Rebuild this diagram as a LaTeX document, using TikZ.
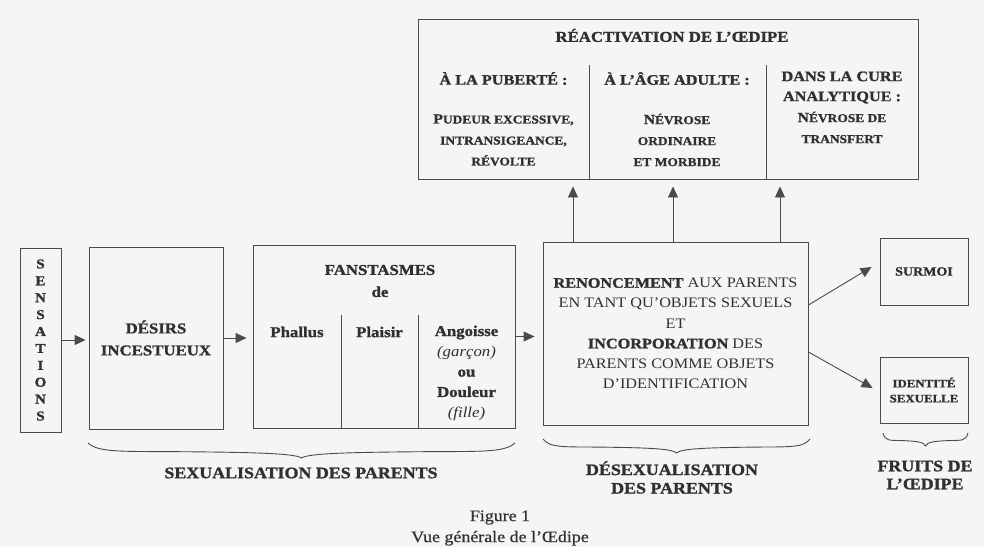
\documentclass[tikz,border=0pt]{standalone}
\usepackage{fontspec}
\setmainfont{Liberation Serif}[FakeStretch=1.12, BoldFeatures={FakeBold=1.3}]
\usetikzlibrary{arrows.meta}
\definecolor{bg}{RGB}{245,245,243}
\definecolor{ink}{RGB}{48,48,48}
\definecolor{edge}{RGB}{75,75,75}
\newcommand\fs[2]{\fontsize{#1}{#2}\selectfont}
\newcommand\msc[2]{#1{\fs{12}{14}#2}}
\newcommand\obrace[4]{%
 \draw[ln] (#1,#3)
  .. controls ({#1+0.025*(#2-#1)},{#3+0.65*#4}) and ({#1+0.08*(#2-#1)},{#3+0.55*#4}) .. ({#1+0.22*(#2-#1)},{#3+0.58*#4})
  .. controls ({#1+0.38*(#2-#1)},{#3+0.62*#4}) and ({(#1+#2)/2-0.015*(#2-#1)},{#3+0.68*#4}) .. ({(#1+#2)/2},{#3+#4})
  .. controls ({(#1+#2)/2+0.015*(#2-#1)},{#3+0.68*#4}) and ({#2-0.38*(#2-#1)},{#3+0.62*#4}) .. ({#2-0.22*(#2-#1)},{#3+0.58*#4})
  .. controls ({#2-0.08*(#2-#1)},{#3+0.55*#4}) and ({#2-0.025*(#2-#1)},{#3+0.65*#4}) .. (#2,#3);}
\begin{document}
\begin{tikzpicture}[x=1pt,y=-1pt,
  every node/.style={text=ink},
  box/.style={draw=edge, line width=0.9pt, inner sep=0pt},
  ln/.style={draw=edge, line width=0.9pt},
  arr/.style={draw=edge, line width=0.9pt, -{Triangle[length=11pt,width=10pt]}},
  fb/.style={font=\bfseries\fs{15}{20}},
  hd/.style={font=\bfseries\fs{14.5}{20}},
  bd/.style={font=\bfseries\fs{14}{21}, align=center},
  lab/.style={font=\bfseries\fs{16}{18.5}, align=center}]
\fill[bg] (0,0) rectangle (984,547);
\useasboundingbox (0,0) rectangle (984,547);

% top box
\node[box, minimum width=500, minimum height=160] (react) at (668,99) {};
\node[font=\bfseries\fs{15}{18}] (rtitle) at (672,35.5) {RÉACTIVATION DE L’ŒDIPE};
\node[hd] (h1) at (503.5,78.5) {À LA PUBERTÉ :};
\node[hd] (h2) at (677,78.5) {À L’ÂGE ADULTE :};
\node[hd, align=center] (h3) at (842,87.5) {DANS LA CURE\\ANALYTIQUE :};
\node[bd] (b1) at (503.5,140) {\msc{P}{UDEUR EXCESSIVE,}\\\msc{}{INTRANSIGEANCE,}\\\msc{}{RÉVOLTE}};
\node[bd] (b2) at (677,140) {\msc{N}{ÉVROSE}\\\msc{}{ORDINAIRE}\\\msc{}{ET MORBIDE}};
\node[bd] (b3) at (842,127.5) {\msc{N}{ÉVROSE DE}\\\msc{}{TRANSFERT}};
\draw[ln] (589,65) -- (react.south -| 589,0);
\draw[ln] (766,65) -- (react.south -| 766,0);

% main row
\node[box, minimum width=41, minimum height=184, align=center, font=\bfseries\fs{13.5}{16.9}] (sens) at (40.5,340) {S\\E\\N\\S\\A\\T\\I\\O\\N\\S};
\node[box, minimum width=134, minimum height=182, align=center, font=\bfseries\fs{15}{22}] (desirs) at (156,338) {DÉSIRS\\INCESTUEUX};
\node[box, minimum width=262, minimum height=183] (fant) at (384,336.5) {};
\node[fb, font=\bfseries\fs{15}{22}, align=center] (fanttitle) at (380,281) {FANSTASMES\\de};
\node[fb] (phallus) at (297,332) {Phallus};
\node[fb] (plaisir) at (379.5,332) {Plaisir};
\node[fb, font=\bfseries\fs{15}{20.3}, align=center] (ang) at (466.5,373) {Angoisse\\{\mdseries\itshape(garçon)}\\ou\\Douleur\\{\mdseries\itshape(fille)}};
\draw[ln] (341,315) -- (fant.south -| 341,0);
\draw[ln] (418,315) -- (fant.south -| 418,0);

\node[box, minimum width=265, minimum height=183, align=center, font=\fs{14.5}{20.2}] (ren) at (675.5,333.5)
 {\textbf{RENONCEMENT} AUX PARENTS\\EN TANT QU’OBJETS SEXUELS\\ET\\\textbf{INCORPORATION} DES\\PARENTS COMME OBJETS\\D’IDENTIFICATION};

\node[box, minimum width=88, minimum height=67, font=\bfseries\fs{12.5}{15}] (surmoi) at (924,271.5) {SURMOI};
\node[box, minimum width=88, minimum height=66, align=center, font=\bfseries\fs{11.5}{15}] (ident) at (924,390) {IDENTITÉ\\SEXUELLE};

% arrows
\draw[arr, shorten >=3pt] (sens.east) -- (sens.east -| desirs.west);
\draw[arr, shorten >=6pt] (desirs.east) -- (desirs.east -| fant.west);
\draw[arr, shorten >=8pt] (fant.east) -- (fant.east -| ren.west);
\draw[arr, shorten >=7pt] (ren.north -| 573,0) -- (react.south -| 573,0);
\draw[arr, shorten >=7pt] (ren.north -| 673,0) -- (react.south -| 673,0);
\draw[arr, shorten >=7pt] (ren.north -| 780,0) -- (react.south -| 780,0);
\draw[arr] ([yshift=28.5pt]ren.east) -- ([xshift=-8pt,yshift=4.5pt]surmoi.west);
\draw[arr] ([yshift=-18.5pt]ren.east) -- ([xshift=-7pt,yshift=2pt]ident.west);

% braces
\obrace{88}{515}{443}{15}
\obrace{543}{810}{439}{14}
\obrace{883}{968}{433}{13}
\node[lab] (sexlab) at (301,473) {SEXUALISATION DES PARENTS};
\node[lab] (desexlab) at (672,477.5) {DÉSEXUALISATION\\DES PARENTS};
\node[lab, font=\bfseries\fs{16}{18}] (fruitlab) at (925,475) {FRUITS DE\\L’ŒDIPE};

% caption
\node[font=\fs{16}{21}\addfontfeatures{FakeBold=0.6}, align=center] (cap) at (500,528) {Figure 1\\Vue générale de l’Œdipe};
\end{tikzpicture}
\end{document}
